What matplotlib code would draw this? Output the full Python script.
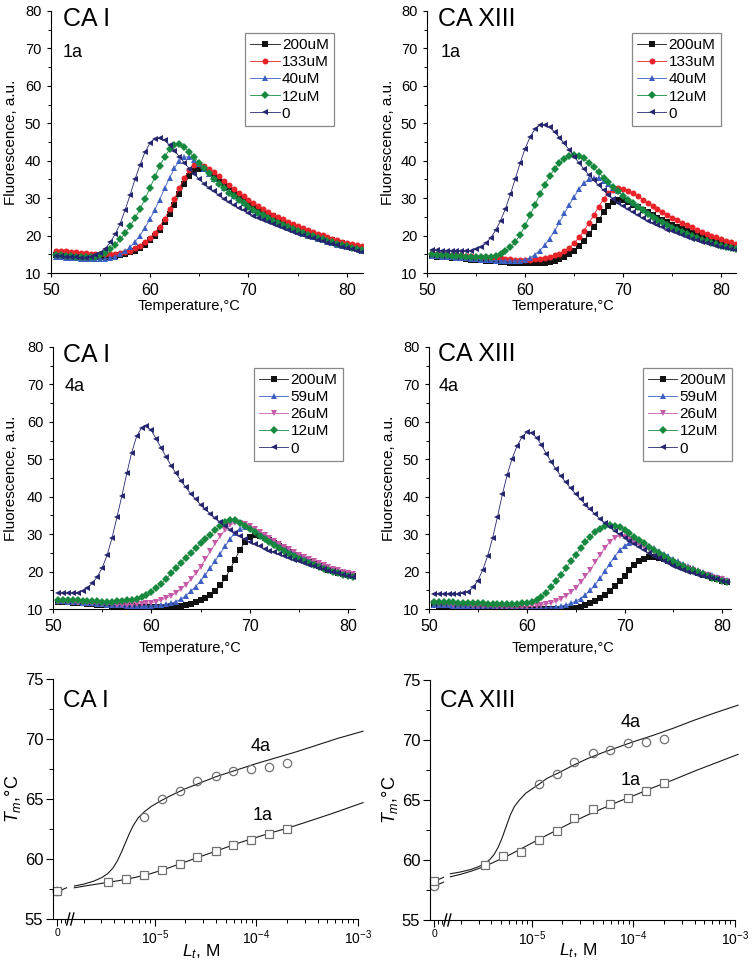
import numpy as np
import matplotlib
matplotlib.use('Agg')
import matplotlib.pyplot as plt
from matplotlib.ticker import FixedLocator, MultipleLocator, FixedFormatter, NullFormatter
import matplotlib.transforms as mtransforms

plt.rcParams['font.family'] = ['Liberation Sans', 'DejaVu Sans']
plt.rcParams['mathtext.fontset'] = 'custom'
plt.rcParams['mathtext.rm'] = 'Liberation Sans'
plt.rcParams['mathtext.it'] = 'Liberation Sans:italic'
plt.rcParams['mathtext.bf'] = 'Liberation Sans:bold'

# ---------------- temperatures (measurement grid) ----------------
T_top = np.arange(50.5, 81.51, 0.5)
T_mid = np.arange(50.5, 80.51, 0.5)

# ---------------- CA I, 1a ----------------
tl_200 = [14.8,14.7,14.6,14.5,14.4,14.3,14.3,14.3,14.3,14.3,
          14.4,14.5,14.6,14.8,15.1,15.5,16.0,16.7,17.6,18.7,
          20.0,21.6,23.5,25.7,28.3,31.0,33.7,35.9,37.3,37.9,
          37.8,37.2,36.3,35.2,34.1,33.0,31.9,30.9,29.9,29.0,
          28.1,27.3,26.5,25.8,25.1,24.4,23.8,23.2,22.6,22.0,
          21.5,21.0,20.5,20.0,19.6,19.2,18.8,18.4,18.0,17.6,
          17.3,17.0,16.7]
tl_133 = [16.0,15.9,15.8,15.6,15.5,15.4,15.3,15.2,15.1,15.0,
          15.0,15.0,15.1,15.3,15.6,16.0,16.6,17.3,18.2,19.3,
          20.7,22.4,24.5,27.0,29.8,32.7,35.4,37.5,38.8,39.1,
          38.7,37.9,36.9,35.8,34.7,33.6,32.5,31.5,30.5,29.6,
          28.7,27.9,27.1,26.3,25.6,24.9,24.3,23.7,23.1,22.5,
          22.0,21.5,21.0,20.5,20.1,19.6,19.2,18.8,18.4,18.0,
          17.7,17.4,17.1]
tl_40 = [14.3,14.2,14.1,14.0,13.9,13.8,13.7,13.7,13.7,13.7,
         13.8,14.0,14.4,15.0,15.8,16.9,18.3,20.0,22.0,24.3,
         26.8,29.6,32.6,35.4,38.0,40.0,41.0,41.0,40.2,39.0,
         37.8,36.5,35.2,34.0,32.8,31.6,30.5,29.5,28.6,27.7,
         26.9,26.1,25.3,24.6,23.9,23.3,22.7,22.1,21.6,21.0,
         20.5,20.0,19.6,19.2,18.8,18.4,18.0,17.6,17.3,16.9,
         16.6,16.3,16.0]
tl_12 = [14.8,14.7,14.6,14.5,14.4,14.3,14.3,14.3,14.4,14.8,
         15.4,16.3,17.5,19.0,20.6,22.5,24.6,27.0,29.7,32.6,
         35.6,38.5,41.0,43.0,44.3,44.4,43.6,42.3,40.9,39.5,
         38.0,36.6,35.2,33.9,32.7,31.5,30.5,29.5,28.6,27.7,
         26.9,26.1,25.4,24.7,24.0,23.4,22.8,22.2,21.7,21.2,
         20.7,20.2,19.8,19.4,19.0,18.6,18.2,17.8,17.5,17.1,
         16.8,16.5,16.2]
tl_0 = [14.6,14.5,14.4,14.3,14.2,14.1,14.1,14.3,14.7,15.4,
        16.5,18.2,20.4,23.2,26.8,30.8,35.0,38.8,42.2,44.6,
        45.9,46.0,45.4,44.2,42.7,41.1,39.5,37.9,36.5,35.1,
        33.9,32.8,31.8,30.8,29.9,29.0,28.2,27.4,26.7,26.0,
        25.3,24.7,24.1,23.5,23.0,22.5,22.0,21.5,21.0,20.5,
        20.1,19.7,19.3,18.9,18.5,18.1,17.7,17.4,17.0,16.7,
        16.3,16.0,15.6]

# ---------------- CA XIII, 1a ----------------
tr_200 = [14.5,14.4,14.3,14.2,14.1,14.0,13.9,13.8,13.6,13.5,
          13.4,13.3,13.2,13.1,13.0,12.9,12.8,12.7,12.6,12.6,
          12.6,12.6,12.7,12.8,13.0,13.3,13.7,14.3,15.0,16.0,
          17.2,18.6,20.3,22.2,24.2,26.2,27.9,29.1,29.6,29.4,
          28.9,28.3,27.6,26.9,26.2,25.5,24.8,24.1,23.5,22.9,
          22.3,21.7,21.2,20.7,20.2,19.7,19.3,18.9,18.5,18.1,
          17.7,17.4,17.1]
tr_133 = [15.3,15.2,15.1,15.0,14.9,14.8,14.7,14.6,14.5,14.4,
          14.3,14.2,14.1,14.0,13.9,13.8,13.7,13.6,13.6,13.6,
          13.6,13.7,13.8,14.0,14.3,14.7,15.2,15.9,16.8,18.0,
          19.5,21.3,23.3,25.5,27.7,29.7,31.3,32.3,32.7,32.5,
          32.0,31.3,30.5,29.6,28.8,27.9,27.1,26.3,25.5,24.8,
          24.1,23.4,22.8,22.2,21.6,21.0,20.5,20.0,19.5,19.0,
          18.6,18.2,17.8]
tr_40 = [14.6,14.5,14.4,14.3,14.2,14.1,14.0,13.9,13.8,13.7,
         13.6,13.5,13.4,13.3,13.3,13.2,13.2,13.2,13.3,13.5,
         14.1,14.9,16.0,17.4,19.2,21.2,23.5,25.9,28.2,30.4,
         32.4,34.0,35.0,35.4,35.3,34.7,33.8,32.8,31.8,30.8,
         29.8,28.8,27.9,27.0,26.1,25.3,24.5,23.8,23.1,22.4,
         21.8,21.2,20.6,20.1,19.6,19.1,18.7,18.3,17.9,17.5,
         17.2,16.9,16.6]
tr_12 = [15.0,14.9,14.8,14.7,14.6,14.5,14.5,14.4,14.4,14.3,
         14.3,14.3,14.3,14.5,15.0,15.8,16.9,18.3,20.2,22.6,
         25.4,28.2,31.0,33.5,35.8,37.8,39.4,40.5,41.2,41.5,
         41.3,40.6,39.5,38.2,36.9,35.5,34.2,33.0,31.8,30.7,
         29.6,28.6,27.6,26.7,25.8,25.0,24.2,23.5,22.8,22.1,
         21.5,20.9,20.4,19.9,19.4,18.9,18.5,18.1,17.7,17.3,
         17.0,16.7,16.4]
tr_0 = [16.1,16.1,16.0,16.0,16.0,15.9,15.9,15.9,16.0,16.3,
        16.9,17.9,19.4,21.4,24.0,27.2,31.0,35.2,39.4,43.2,
        46.3,48.4,49.5,49.6,48.9,47.7,46.2,44.6,42.9,41.1,
        39.4,37.8,36.2,34.8,33.4,32.1,30.9,29.8,28.8,27.9,
        27.0,26.2,25.4,24.7,24.0,23.4,22.8,22.2,21.6,21.1,
        20.6,20.1,19.7,19.2,18.8,18.4,18.0,17.7,17.3,17.0,
        16.7,16.4,16.1]

# ---------------- CA I, 4a ----------------
ml_200 = [12.0,11.9,11.8,11.7,11.6,11.5,11.4,11.3,11.2,11.1,
          11.0,10.9,10.8,10.8,10.7,10.7,10.6,10.6,10.6,10.6,
          10.6,10.6,10.6,10.7,10.8,10.9,11.1,11.4,11.8,12.3,
          13.0,13.8,14.9,16.3,18.2,20.6,23.2,25.8,27.9,29.2,
          29.7,29.6,29.1,28.4,27.6,26.8,26.0,25.2,24.5,23.8,
          23.2,22.6,22.0,21.5,21.0,20.5,20.1,19.7,19.3,19.0,
          18.7]
ml_59 = [12.2,12.1,12.0,11.9,11.8,11.7,11.6,11.5,11.4,11.3,
         11.2,11.1,11.0,11.0,10.9,10.9,10.8,10.8,10.8,10.9,
         11.0,11.1,11.3,11.6,12.0,12.6,13.6,14.7,16.0,17.5,
         19.2,21.0,22.9,24.8,26.8,28.7,30.4,31.5,32.0,31.8,
         31.2,30.4,29.6,28.7,27.9,27.1,26.3,25.6,24.9,24.2,
         23.6,23.0,22.4,21.9,21.4,20.9,20.5,20.1,19.7,19.4,
         19.1]
ml_26 = [12.0,11.9,11.9,11.8,11.7,11.7,11.6,11.5,11.5,11.4,
         11.3,11.3,11.2,11.2,11.2,11.2,11.3,11.4,11.5,11.7,
         12.0,12.4,12.9,13.5,14.3,15.3,16.5,17.9,19.5,21.3,
         23.3,25.4,27.5,29.5,31.2,32.4,33.0,33.1,32.8,32.2,
         31.5,30.7,29.8,29.0,28.2,27.4,26.6,25.9,25.2,24.5,
         23.9,23.3,22.7,22.2,21.7,21.2,20.8,20.4,20.0,19.7,
         19.4]
ml_12 = [12.5,12.4,12.4,12.3,12.3,12.2,12.2,12.1,12.1,12.0,
         12.0,12.0,12.1,12.2,12.3,12.5,12.8,13.2,13.8,14.6,
         15.6,16.8,18.1,19.5,20.9,22.3,23.7,25.0,26.3,27.5,
         28.6,29.8,31.0,32.1,33.2,33.8,33.7,33.1,32.3,31.4,
         30.5,29.6,28.7,27.9,27.1,26.3,25.5,24.8,24.1,23.4,
         22.8,22.2,21.7,21.2,20.7,20.3,19.9,19.5,19.2,18.9,
         18.6]
ml_0 = [14.2,14.2,14.2,14.2,14.4,14.9,15.6,16.9,18.6,21.0,
        24.4,29.0,34.5,40.2,46.2,51.8,56.1,58.4,58.9,57.7,
        55.4,53.0,50.6,48.3,46.2,44.3,42.5,40.8,39.3,37.9,
        36.6,35.4,34.3,33.2,32.2,31.2,30.3,29.4,28.6,27.9,
        27.3,26.7,26.1,25.6,25.1,24.6,24.1,23.6,23.1,22.7,
        22.2,21.8,21.4,21.0,20.6,20.2,19.8,19.5,19.1,18.8,
        18.5]

# ---------------- CA XIII, 4a ----------------
mr_200 = [11.0,10.9,10.9,10.8,10.8,10.7,10.6,10.6,10.5,10.4,
          10.4,10.3,10.2,10.2,10.1,10.1,10.0,10.0,10.0,9.9,
          9.9,9.9,9.9,9.9,9.9,9.9,9.9,10.0,10.1,10.3,
          10.6,11.0,11.5,12.1,12.9,13.8,14.9,16.1,17.4,18.7,
          20.5,21.7,22.7,23.4,23.8,23.9,23.7,23.3,22.8,22.3,
          21.8,21.2,20.7,20.2,19.7,19.2,18.8,18.4,18.0,17.6,
          17.2]
mr_59 = [11.2,11.1,11.0,11.0,10.9,10.8,10.7,10.7,10.6,10.5,
         10.5,10.4,10.3,10.3,10.2,10.2,10.2,10.1,10.1,10.1,
         10.1,10.2,10.2,10.3,10.4,10.6,10.8,11.1,11.5,12.1,
         12.8,13.8,15.0,16.5,18.2,20.1,22.1,24.0,25.7,26.9,
         27.7,28.0,27.9,27.5,26.9,26.2,25.5,24.8,24.1,23.4,
         22.7,22.1,21.5,20.9,20.4,19.9,19.4,19.0,18.6,18.2,
         17.8]
mr_26 = [11.5,11.4,11.4,11.3,11.2,11.1,11.1,11.0,10.9,10.9,
         10.8,10.7,10.7,10.6,10.6,10.5,10.5,10.5,10.5,10.6,
         10.7,10.8,11.0,11.3,11.6,12.1,12.7,13.5,14.5,15.7,
         17.1,18.7,20.5,22.5,24.5,26.4,28.0,29.1,29.5,29.3,
         28.7,28.0,27.3,26.6,25.9,25.2,24.5,23.8,23.2,22.6,
         22.0,21.4,20.9,20.4,19.9,19.4,19.0,18.6,18.2,17.9,
         17.6]
mr_12 = [12.0,11.9,11.9,11.8,11.8,11.7,11.7,11.6,11.6,11.5,
         11.5,11.4,11.4,11.3,11.3,11.3,11.3,11.4,11.5,11.7,
         12.0,12.5,13.3,14.4,15.8,17.4,19.1,20.9,22.7,24.5,
         26.2,27.8,29.3,30.5,31.5,32.1,32.4,32.3,31.8,31.1,
         30.2,29.3,28.4,27.5,26.6,25.7,24.9,24.1,23.4,22.7,
         22.0,21.4,20.8,20.3,19.8,19.3,18.8,18.4,18.0,17.6,
         17.2]
mr_0 = [14.1,14.1,14.0,14.0,14.0,14.0,14.2,14.6,15.8,17.6,
        20.5,24.2,28.9,34.6,40.6,45.9,50.2,53.5,55.9,57.2,
        57.0,55.8,53.8,51.5,49.3,47.3,45.5,43.8,42.2,40.7,
        39.3,37.9,36.6,35.3,34.1,33.0,31.9,30.9,30.0,29.1,
        28.2,27.3,26.5,25.7,24.9,24.2,23.5,22.8,22.2,21.6,
        21.0,20.5,20.0,19.6,19.2,18.8,18.5,18.2,17.9,17.6,
        17.3]

labels_1a = ['200uM', '133uM', '40uM', '12uM', '0']
labels_4a = ['200uM', '59uM', '26uM', '12uM', '0']

# ---------------- Tm vs ligand concentration ----------------
L_1a = [3.5e-6, 5.2e-6, 7.8e-6, 11.7e-6, 17.6e-6, 26e-6, 40e-6, 59e-6, 89e-6, 133e-6, 200e-6]
L_4a_I = [7.8e-6, 11.7e-6, 17.6e-6, 26e-6, 40e-6, 59e-6, 89e-6, 133e-6, 200e-6]
L_4a_XIII = [11.7e-6, 17.6e-6, 26e-6, 40e-6, 59e-6, 89e-6, 133e-6, 200e-6]

Tm_I_1a = [58.05, 58.3, 58.7, 59.1, 59.6, 60.2, 60.7, 61.2, 61.6, 62.1, 62.5]
Tm_I_4a = [63.5, 65.0, 65.7, 66.5, 66.9, 67.3, 67.5, 67.7, 68.0]
Tm_XIII_1a = [59.6, 60.3, 60.65, 61.7, 62.45, 63.5, 64.25, 64.7, 65.2, 65.75, 66.45]
Tm_XIII_4a = [66.3, 67.2, 68.15, 68.9, 69.2, 69.75, 69.8, 70.1]

Tm0_I_1a, Tm0_I_4a = 57.3, 57.3
Tm0_XIII_1a, Tm0_XIII_4a = 58.25, 57.85

fit_I_1a_logL = [-5.79, -5.65, -5.50, -5.35, -5.20, -5.05, -4.90, -4.75, -4.60,
                 -4.45, -4.30, -4.15, -4.00, -3.85, -3.70, -3.50, -3.25, -2.95]
fit_I_1a_Tm = [57.6, 57.8, 58.0, 58.2, 58.45, 58.75, 59.15, 59.6, 60.05,
               60.5, 60.95, 61.4, 61.8, 62.2, 62.55, 63.1, 63.8, 64.7]
fit_I_4a_logL = [-5.79, -5.70, -5.60, -5.52, -5.46, -5.41, -5.37, -5.33, -5.29, -5.25,
                 -5.21, -5.16, -5.10, -5.03, -4.95, -4.85, -4.70, -4.55, -4.40, -4.20,
                 -4.00, -3.80, -3.60, -3.40, -3.20, -2.95]
fit_I_4a_Tm = [57.75, 57.9, 58.15, 58.45, 58.8, 59.25, 59.8, 60.5, 61.3, 62.1,
               62.8, 63.45, 63.95, 64.4, 64.8, 65.25, 65.85, 66.35, 66.85, 67.4,
               67.95, 68.45, 68.95, 69.5, 70.05, 70.65]
fit_XIII_1a_logL = [-5.80, -5.70, -5.60, -5.50, -5.40, -5.30, -5.20, -5.10, -5.00, -4.90,
                    -4.75, -4.60, -4.45, -4.30, -4.15, -4.00, -3.80, -3.60, -3.40, -3.20, -2.97]
fit_XIII_1a_Tm = [58.6, 58.8, 59.05, 59.35, 59.7, 60.1, 60.5, 60.95, 61.4, 61.85,
                  62.5, 63.15, 63.75, 64.3, 64.85, 65.35, 66.05, 66.7, 67.4, 68.05, 68.8]
fit_XIII_4a_logL = [-5.80, -5.70, -5.60, -5.52, -5.46, -5.41, -5.37, -5.33, -5.29, -5.25,
                    -5.21, -5.17, -5.12, -5.06, -5.00, -4.93, -4.85, -4.75, -4.60, -4.45,
                    -4.30, -4.15, -4.00, -3.80, -3.60, -3.40, -3.20, -2.97]
fit_XIII_4a_Tm = [58.85, 59.0, 59.2, 59.45, 59.7, 60.05, 60.45, 61.05, 61.85, 62.8,
                  63.75, 64.45, 65.0, 65.55, 65.9, 66.3, 66.8, 67.2, 67.85, 68.45,
                  68.95, 69.4, 69.85, 70.4, 71.0, 71.65, 72.25, 72.9]

# ---------------- styles ----------------
COL = {'200uM': '#111111', '133uM': '#e8232a', '40uM': '#3d5fc2', '59uM': '#3d5fc2',
       '26uM': '#c659a8', '12uM': '#17893f', '0': '#26266f'}
MK = {'200uM': 's', '133uM': 'o', '40uM': '^', '59uM': '^', '26uM': 'v', '12uM': 'D', '0': '<'}
MS = {'200uM': 3.7, '133uM': 4.3, '40uM': 4.5, '59uM': 4.5, '26uM': 4.5, '12uM': 3.6, '0': 4.6}

fig = plt.figure(figsize=(7.56, 9.63), dpi=100)


def dsf_panel(rect, T, series, labels, xmax, title, sub, title_pos, sub_pos, leg_anchor,
              ylab_x, xlab_xy):
    ax = fig.add_axes(rect)
    for lab, y in zip(labels, series):
        ax.plot(T, y, color=COL[lab], marker=MK[lab], ms=MS[lab], lw=0.6, mew=0,
                label=lab)
    ax.set_xlim(50, xmax)
    ax.set_ylim(10, 80)
    ax.spines['top'].set_visible(False)
    ax.spines['right'].set_visible(False)
    ax.xaxis.set_major_locator(FixedLocator([50, 60, 70, 80]))
    ax.xaxis.set_minor_locator(FixedLocator([55, 65, 75]))
    ax.yaxis.set_major_locator(MultipleLocator(10))
    ax.yaxis.set_minor_locator(MultipleLocator(5))
    ax.tick_params(which='major', direction='out', length=3.0, width=0.8, pad=4)
    ax.tick_params(which='minor', direction='out', length=2.0, width=0.7)
    ax.tick_params(axis='x', labelsize=11.5)
    ax.tick_params(axis='y', labelsize=10.5)
    ax.text(title_pos[0], title_pos[1], title, transform=ax.transAxes, fontsize=18,
            ha='left', va='baseline')
    ax.text(sub_pos[0], sub_pos[1], sub, transform=ax.transAxes, fontsize=13,
            ha='left', va='baseline')
    leg = ax.legend(loc='upper right', bbox_to_anchor=leg_anchor, fontsize=11,
                    frameon=True, fancybox=False, borderpad=0.35, labelspacing=0.2,
                    handlelength=1.9, handletextpad=0.15, borderaxespad=0, numpoints=1)
    leg.get_frame().set_edgecolor('#6a6a6a')
    leg.get_frame().set_linewidth(0.9)
    ax.set_ylabel('Fluorescence, a.u.', fontsize=11)
    ax.yaxis.set_label_coords(ylab_x, 0.5)
    ax.set_xlabel('Temperature,°C', fontsize=10.5, va='top')
    ax.xaxis.set_label_coords(xlab_xy[0], xlab_xy[1])
    return ax


dsf_panel([0.0675, 0.7165, 0.4127, 0.2721], T_top, [tl_200, tl_133, tl_40, tl_12, tl_0],
          labels_1a, 81.6, 'CA I', '1a', (0.038, 0.943), (0.038, 0.823), (0.907, 0.916),
          -0.107, (0.442, -0.10))
dsf_panel([0.5648, 0.7165, 0.4087, 0.2721], T_top, [tr_200, tr_133, tr_40, tr_12, tr_0],
          labels_1a, 81.5, 'CA XIII', '1a', (0.036, 0.943), (0.045, 0.826), (0.951, 0.916),
          -0.102, (0.44, -0.10))
dsf_panel([0.0701, 0.3676, 0.3995, 0.2721], T_mid, [ml_200, ml_59, ml_26, ml_12, ml_0],
          labels_4a, 80.7, 'CA I', '4a', (0.033, 0.9415), (0.040, 0.832), (0.96, 0.92),
          -0.1175, (0.455, -0.121))
dsf_panel([0.5675, 0.3676, 0.3995, 0.2721], T_mid, [mr_200, mr_59, mr_26, mr_12, mr_0],
          labels_4a, 80.9, 'CA XIII', '4a', (0.03, 0.948), (0.033, 0.832), (1.003, 0.92),
          -0.111, (0.445, -0.121))

X_ZERO = 1.1e-6


def tm_panel(rect, title, L1, T1, L4, T4, t01, t04, f1x, f1y, f4x, f4y, lab4, lab1,
             ylab_x, xlab_xy, title_y):
    ax = fig.add_axes(rect)
    ax.set_xscale('log')
    ax.set_xlim(1e-6, 1e-3)
    ax.set_ylim(55, 75)
    ax.spines['top'].set_visible(False)
    ax.spines['right'].set_visible(False)
    ax.plot(10 ** np.array(f1x), f1y, color='#1a1a1a', lw=0.8, clip_on=False)
    ax.plot(10 ** np.array(f4x), f4y, color='#1a1a1a', lw=0.8, clip_on=False)
    # short segments of the fits inside the zero region
    ax.plot([1.16e-6, 1.36e-6], [t01 + 0.05, t01 + 0.3], color='#1a1a1a', lw=0.8)
    if abs(t04 - t01) > 0.05:
        ax.plot([1.16e-6, 1.36e-6], [t04 + 0.05, t04 + 0.3], color='#1a1a1a', lw=0.8)
    ax.plot(L1, T1, ls='none', marker='s', ms=5.2, mfc='white', mec='#707070', mew=0.9,
            clip_on=False)
    ax.plot(L4, T4, ls='none', marker='o', ms=6.0, mfc='none', mec='#707070', mew=0.9,
            clip_on=False)
    ax.plot([X_ZERO], [t04], ls='none', marker='o', ms=6.0, mfc='none', mec='#707070',
            mew=0.9, clip_on=False)
    ax.plot([X_ZERO], [t01], ls='none', marker='s', ms=5.2, mfc='white', mec='#707070',
            mew=0.9, clip_on=False)
    ax.xaxis.set_major_locator(FixedLocator([X_ZERO, 1e-5, 1e-4, 1e-3]))
    ax.xaxis.set_major_formatter(FixedFormatter(['0', r'$10^{-5}$', r'$10^{-4}$',
                                                 r'$10^{-3}$']))
    minors = [1.2e-6, 1.3e-6]
    for e in (-6, -5, -4):
        for k in range(2, 10):
            minors.append(k * 10.0 ** e)
    ax.xaxis.set_minor_locator(FixedLocator(minors))
    ax.xaxis.set_minor_formatter(NullFormatter())
    ax.yaxis.set_major_locator(MultipleLocator(5))
    ax.yaxis.set_minor_locator(MultipleLocator(2.5))
    ax.tick_params(which='major', direction='out', length=5, width=0.8)
    ax.tick_params(which='minor', direction='out', length=2.6, width=0.7)
    ax.tick_params(axis='y', labelsize=12, pad=2)
    ax.tick_params(axis='x', labelsize=10, pad=1.5)
    for t in ax.get_xticklabels():
        if t.get_text() == '0':
            t.set_fontsize(7.5)
    # axis-break marks
    trans = mtransforms.blended_transform_factory(ax.transData, ax.transAxes)
    for xa, xb in ((10 ** -5.865, 10 ** -5.835), (10 ** -5.825, 10 ** -5.795)):
        ax.plot([xa, xb], [-0.025, 0.025], color='black', lw=1.0, transform=trans,
                clip_on=False)
    ax.text(0.033, title_y, title, transform=ax.transAxes, fontsize=17.5,
            ha='left', va='baseline')
    ax.text(lab4[0], lab4[1], '4a', fontsize=13, ha='left', va='baseline')
    ax.text(lab1[0], lab1[1], '1a', fontsize=13, ha='left', va='baseline')
    ax.set_ylabel(r'$T_m$,°C', fontsize=13)
    ax.yaxis.set_label_coords(ylab_x, 0.5)
    ax.set_xlabel(r'$L_t$, M', fontsize=12.5, va='top')
    ax.xaxis.set_label_coords(xlab_xy[0], xlab_xy[1])
    return ax


tm_panel([0.0701, 0.0457, 0.4034, 0.2492], 'CA I', L_1a, Tm_I_1a, L_4a_I, Tm_I_4a,
         Tm0_I_1a, Tm0_I_4a, fit_I_1a_logL, fit_I_1a_Tm, fit_I_4a_logL, fit_I_4a_Tm,
         (8.7e-5, 69.0), (9.1e-5, 63.25), -0.098, (0.485, -0.098), 0.885)
tm_panel([0.5688, 0.0447, 0.4034, 0.2492], 'CA XIII', L_1a, Tm_XIII_1a, L_4a_XIII,
         Tm_XIII_4a, Tm0_XIII_1a, Tm0_XIII_4a, fit_XIII_1a_logL, fit_XIII_1a_Tm,
         fit_XIII_4a_logL, fit_XIII_4a_Tm, (7.46e-5, 71.06), (7.46e-5, 66.25),
         -0.098, (0.485, -0.09), 0.889)

fig.savefig('out.png', dpi=100)
